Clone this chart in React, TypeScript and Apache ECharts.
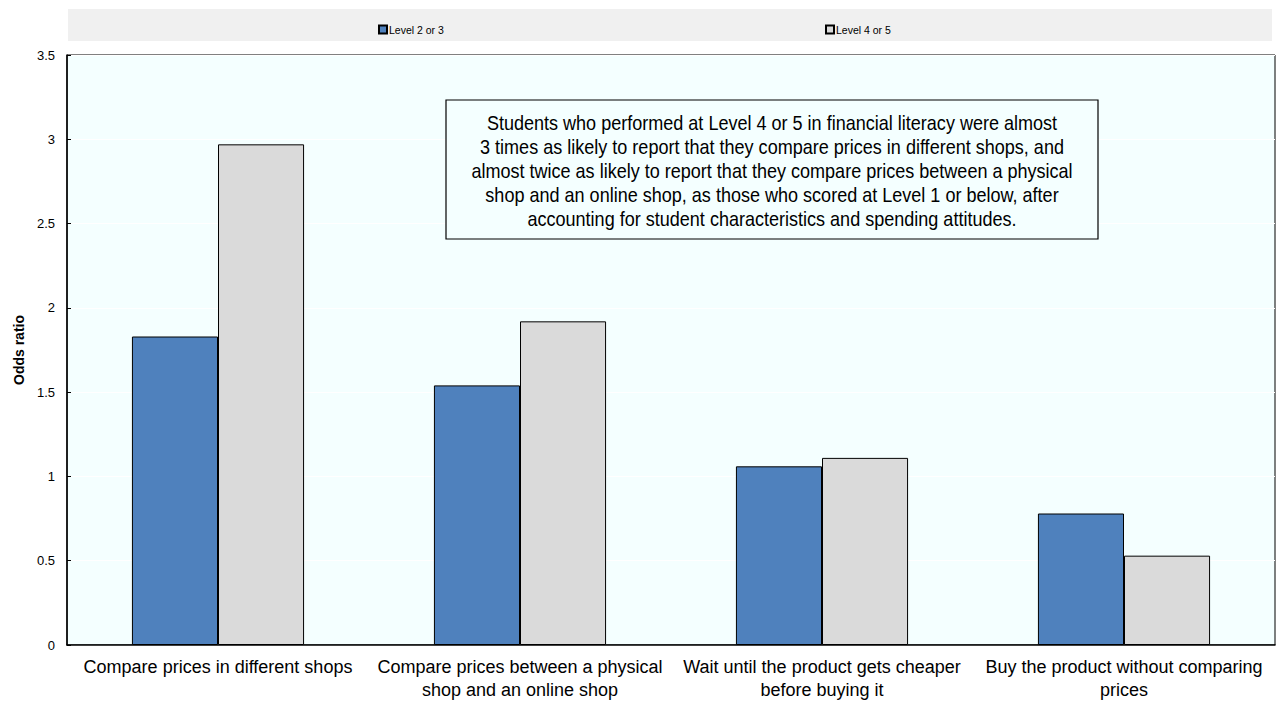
import React, { useEffect, useRef } from "react";
import * as echarts from "echarts";

const categories = [
  "Compare prices in different shops",
  "Compare prices between a physical\nshop and an online shop",
  "Wait until the product gets cheaper\nbefore buying it",
  "Buy the product without comparing\nprices",
];
const level23 = [1.83, 1.54, 1.06, 0.78];
const level45 = [2.97, 1.92, 1.11, 0.53];
const seriesNames = ["Level 2 or 3", "Level 4 or 5"];
const noteText =
  "Students who performed at Level 4 or 5 in financial literacy were almost\n3 times as likely to report that they compare prices in different shops, and\nalmost twice as likely to report that they compare prices between a physical\nshop and an online shop, as those who scored at Level 1 or below, after\naccounting for student characteristics and spending attitudes.";

const FONT = "'Liberation Sans', Arial, sans-serif";

export default function App() {
  const ref = useRef<HTMLDivElement>(null);
  useEffect(() => {
    if (!ref.current) return;
    const chart = echarts.init(ref.current, null, { renderer: "svg" });
    chart.setOption({
      animation: false,
      textStyle: { fontFamily: FONT, color: "#000" },
      graphic: [
        {
          type: "rect",
          shape: { x: 68, y: 9, width: 1204, height: 32 },
          style: { fill: "#F0F0F0" },
          z: -1,
        },
        {
          type: "rect",
          shape: { x: 446, y: 100, width: 652, height: 139 },
          style: { fill: "#F4FFFF", stroke: "#000", lineWidth: 1.2 },
          z: 100,
        },
        {
          type: "text",
          x: 772,
          y: 171.5,
          scaleX: 0.88,
          z: 101,
          style: {
            text: noteText,
            fontFamily: FONT,
            fontSize: 20.5,
            lineHeight: 24,
            fill: "#000",
            align: "center",
            verticalAlign: "middle",
          },
        },
      ],
      legend: [
        {
          left: 373,
          top: 19,
          data: [seriesNames[0]],
          icon: "rect",
          itemWidth: 8,
          itemHeight: 8,
          textStyle: { fontSize: 10.5, fontFamily: FONT, color: "#000", padding: [0, 0, 0, -3] },
        },
        {
          left: 820,
          top: 19,
          data: [seriesNames[1]],
          icon: "rect",
          itemWidth: 8,
          itemHeight: 8,
          textStyle: { fontSize: 10.5, fontFamily: FONT, color: "#000", padding: [0, 0, 0, -3] },
        },
      ],
      grid: {
        left: 67,
        top: 55,
        right: 1,
        bottom: 55,
        show: true,
        backgroundColor: "#F4FFFF",
        borderColor: "#000",
        borderWidth: 1,
      },
      xAxis: {
        type: "category",
        data: categories,
        axisLine: { lineStyle: { color: "#000", width: 1.5 } },
        axisTick: { inside: true, length: 6, lineStyle: { color: "#000" } },
        axisLabel: {
          fontSize: 18,
          lineHeight: 23,
          color: "#000",
          fontFamily: FONT,
          margin: 10,
          interval: 0,
        },
      },
      yAxis: {
        type: "value",
        min: 0,
        max: 3.5,
        interval: 0.5,
        name: "Odds ratio",
        nameLocation: "middle",
        nameGap: 40,
        nameTextStyle: { fontSize: 14, fontWeight: "bold", color: "#000", fontFamily: FONT },
        axisLine: { show: true, lineStyle: { color: "#000", width: 1.5 } },
        axisTick: { show: true, inside: true, length: 4, lineStyle: { color: "#000" } },
        axisLabel: { fontSize: 13, color: "#000", margin: 12, fontFamily: FONT },
        splitLine: { show: true, lineStyle: { color: "#fff", width: 1 } },
      },
      series: [
        {
          name: seriesNames[0],
          type: "bar",
          data: level23,
          barGap: "0%",
          barCategoryGap: "43%",
          itemStyle: { color: "#4F81BD", borderColor: "#000", borderWidth: 1 },
        },
        {
          name: seriesNames[1],
          type: "bar",
          data: level45,
          itemStyle: { color: "#DADADA", borderColor: "#000", borderWidth: 1 },
        },
      ],
    });
    return () => chart.dispose();
  }, []);
  return (
    <div
      ref={ref}
      style={{ position: "absolute", left: 0, top: 0, width: 1276, height: 701 }}
    />
  );
}
